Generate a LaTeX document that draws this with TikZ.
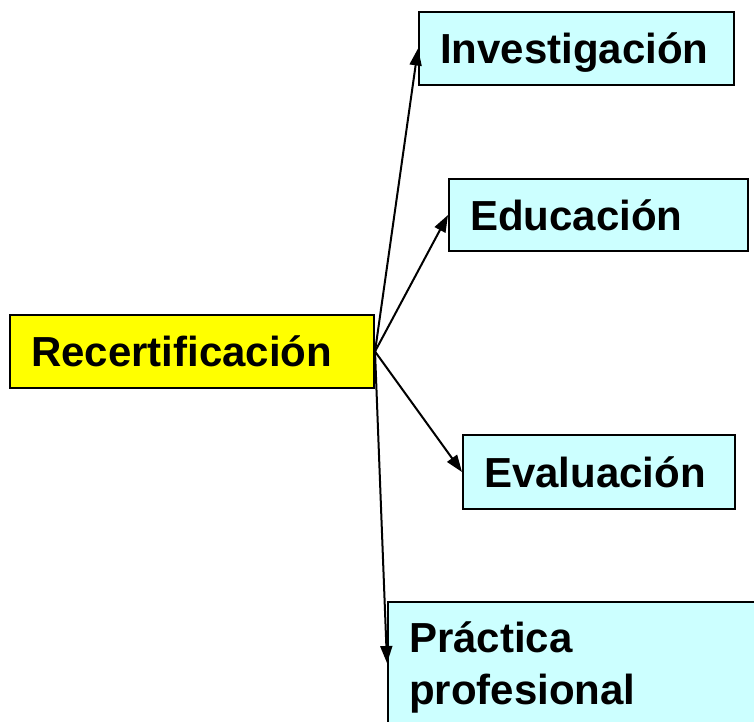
\documentclass[tikz,border=0pt]{standalone}
\usepackage{fontspec}
\setmainfont{Liberation Sans}
\usepackage{tikz}
\usetikzlibrary{arrows.meta}
\hyphenpenalty=10000
\exhyphenpenalty=10000
\definecolor{amarillo}{HTML}{FFFF00}
\definecolor{celeste}{HTML}{CCFFFF}

\begin{document}
\begin{tikzpicture}[x=1bp, y=-1bp, >={Triangle[length=17bp,width=12bp]}, line width=2bp,
    tema/.style={draw, fill=celeste, anchor=north west, align=left, inner xsep=21bp, inner ysep=0pt,
        font=\bfseries\fontsize{42bp}{52bp}\selectfont},
    uno/.style={text height=30bp, text depth=0pt}]
    \useasboundingbox (0,0) rectangle (754,722);
    \node[tema, uno, fill=amarillo, text width=322bp, minimum height=73bp] (rec) at (9,314) {Recertificación};
    \node[tema, uno, text width=273bp, minimum height=73bp] (inv) at (418,11) {Investigación};
    \node[tema, uno, text width=257bp, minimum height=72bp] (edu) at (448,178) {Educación};
    \node[tema, uno, text width=230bp, minimum height=74bp] (eva) at (462,434) {Evaluación};
    \node[tema, text width=338bp, minimum height=130bp] (pra) at (387,601) {Práctica\\profesional};
    
    \path[->]
    (rec.east) edge (inv.west)
    (rec.east) edge (edu.west)
    (rec.east) edge (eva.west)
    (rec.east) edge ([yshift=4bp]pra.west);
\end{tikzpicture}
\end{document}
